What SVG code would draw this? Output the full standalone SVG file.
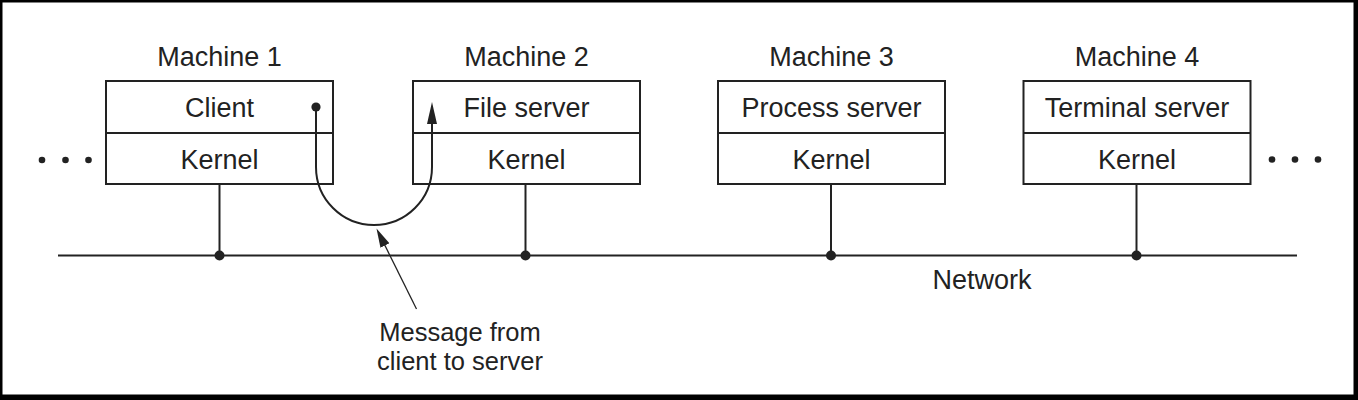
<svg xmlns="http://www.w3.org/2000/svg" width="1358" height="400" viewBox="0 0 1358 400">
  <style>
    .box { fill: #fff; stroke: #222; stroke-width: 2; }
    .ln { fill: none; stroke: #222; stroke-width: 2; }
    .thin { fill: none; stroke: #222; stroke-width: 1.3; }
    .dot { fill: #222; }
    text { font-family: "Liberation Sans", Arial, Helvetica, sans-serif; font-size: 27px; fill: #222; text-anchor: middle; }
    .msg { font-size: 25.5px; }
  </style>
  <defs>
    <marker id="ah" markerUnits="userSpaceOnUse" markerWidth="24" markerHeight="12" refX="12" refY="5" orient="auto">
      <path d="M0,0 L22,5 L0,10 z" fill="#222"/>
    </marker>
    <marker id="ah2" markerUnits="userSpaceOnUse" markerWidth="22" markerHeight="12" refX="10" refY="5" orient="auto">
      <path d="M0,0 L19,5 L0,10 z" fill="#222"/>
    </marker>
  </defs>
  <rect x="0" y="0" width="1358" height="400" fill="#000"/>
  <rect x="2.5" y="2.5" width="1351" height="392" fill="#fff"/>

  <g id="connectors">
    <line class="ln" x1="58" y1="255.5" x2="1297" y2="255.5"/>
    <line class="ln" x1="219.5" y1="184" x2="219.5" y2="255.5"/>
    <line class="ln" x1="525.5" y1="184" x2="525.5" y2="255.5"/>
    <line class="ln" x1="831" y1="184" x2="831" y2="255.5"/>
    <line class="ln" x1="1136.5" y1="184" x2="1136.5" y2="255.5"/>
    <circle class="dot" cx="219.5" cy="255.5" r="5"/>
    <circle class="dot" cx="525.5" cy="255.5" r="5"/>
    <circle class="dot" cx="831" cy="255.5" r="5"/>
    <circle class="dot" cx="1136.5" cy="255.5" r="5"/>
  </g>

  <g id="dots-left">
    <circle class="dot" cx="42" cy="160" r="3.3"/>
    <circle class="dot" cx="65.5" cy="160" r="3.3"/>
    <circle class="dot" cx="88.5" cy="160" r="3.3"/>
  </g>
  <g id="dots-right">
    <circle class="dot" cx="1272" cy="159.5" r="3.3"/>
    <circle class="dot" cx="1295" cy="159.5" r="3.3"/>
    <circle class="dot" cx="1318" cy="159.5" r="3.3"/>
  </g>

  <g id="machine1">
    <text x="219.5" y="66">Machine 1</text>
    <rect class="box" x="106" y="81" width="227" height="103"/>
    <line class="ln" x1="106" y1="133" x2="333" y2="133"/>
    <text x="219.5" y="116.5">Client</text>
    <text x="219.5" y="169">Kernel</text>
  </g>
  <g id="machine2">
    <text x="526.5" y="66">Machine 2</text>
    <rect class="box" x="413" y="81" width="227" height="103"/>
    <line class="ln" x1="413" y1="133" x2="640" y2="133"/>
    <text x="526.5" y="116.5">File server</text>
    <text x="526.5" y="169">Kernel</text>
  </g>
  <g id="machine3">
    <text x="831.5" y="66">Machine 3</text>
    <rect class="box" x="718" y="81" width="227" height="103"/>
    <line class="ln" x1="718" y1="133" x2="945" y2="133"/>
    <text x="831.5" y="116.5">Process server</text>
    <text x="831.5" y="169">Kernel</text>
  </g>
  <g id="machine4">
    <text x="1137" y="66">Machine 4</text>
    <rect class="box" x="1023.5" y="81" width="227" height="103"/>
    <line class="ln" x1="1023.5" y1="133" x2="1250.5" y2="133"/>
    <text x="1137" y="116.5">Terminal server</text>
    <text x="1137" y="169">Kernel</text>
  </g>

  <g id="message">
    <circle class="dot" cx="316" cy="107" r="4.6"/>
    <path class="ln" d="M316,107 V167 A58,58 0 0 0 432,167 V112" marker-end="url(#ah)"/>
    <line class="thin" x1="416.5" y1="309" x2="380.5" y2="236.5" marker-end="url(#ah2)"/>
    <text class="msg" x="460" y="341">Message from</text>
    <text class="msg" x="460" y="370">client to server</text>
  </g>

  <g id="network-label">
    <text x="982" y="289">Network</text>
  </g>
</svg>
